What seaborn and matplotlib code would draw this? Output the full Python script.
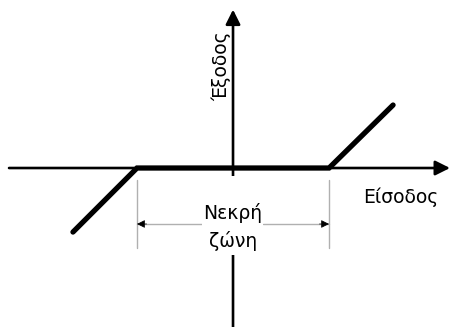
import numpy as np
import matplotlib
matplotlib.use('Agg')
import matplotlib.pyplot as plt
import matplotlib.patches as mpatches
import pandas as pd
import seaborn as sns

# Χαρακτηριστική νεκρής ζώνης (είσοδος -> έξοδος), μονάδα = μισό πλάτος ζώνης
eisodos = [-1.667, -1.0, 1.0, 1.667]
exodos = [-0.667, 0.0, 0.0, 0.656]
zone_edges = [-1.0, 1.0]

label_x = 'Είσοδος'
label_y = 'Έξοδος'
label_zone = ['Νεκρή', 'ζώνη']

df = pd.DataFrame({'eisodos': eisodos, 'exodos': exodos})

sns.set_style('white')
plt.rcParams['font.family'] = ['DejaVu Sans']
plt.rcParams['text.color'] = 'black'

fig = plt.figure(figsize=(4.5, 3.27), dpi=100)
ax = fig.add_axes([0, 0, 1, 1])
ax.set_xlim(-2.427, 2.26)
ax.set_ylim(-1.656, 1.75)
ax.axis('off')

# άξονες με βέλη
ax.annotate('', xy=(2.26, 0), xytext=(-2.333, 0),
            arrowprops=dict(arrowstyle='-|>', color='black', lw=1.9,
                            mutation_scale=22, shrinkA=0, shrinkB=0))
ax.annotate('', xy=(0, 1.65), xytext=(0, -1.7),
            arrowprops=dict(arrowstyle='-|>', color='black', lw=1.9,
                            mutation_scale=22, shrinkA=0, shrinkB=0))

# η καμπύλη
sns.lineplot(data=df, x='eisodos', y='exodos', ax=ax, color='black',
             linewidth=3.8, solid_capstyle='round', solid_joinstyle='miter',
             sort=False, estimator=None)
ax.set_xlabel('')
ax.set_ylabel('')

# λευκό πλαίσιο πίσω από το κείμενο της ζώνης (κρύβει τον άξονα)
ax.add_patch(mpatches.Rectangle((-0.32, -0.906), 0.63, 0.82,
                                facecolor='white', edgecolor='none', zorder=4))

# διάσταση νεκρής ζώνης
gray = '#b0b0b0'
for xe in zone_edges:
    ax.plot([xe, xe], [-0.125, -0.833], color=gray, lw=1)
ax.plot([-1.0, -0.32], [-0.583, -0.583], color=gray, lw=1)
ax.plot([0.31, 1.0], [-0.583, -0.583], color=gray, lw=1)
for xe, d in [(-1.0, 1), (1.0, -1)]:
    ax.annotate('', xy=(xe, -0.583), xytext=(xe + d * 0.1, -0.583),
                arrowprops=dict(arrowstyle='-|>', color='black', lw=0.5,
                                mutation_scale=12, shrinkA=0, shrinkB=0))

ax.text(0, -0.47, label_zone[0], ha='center', va='center', fontsize=13.5,
        zorder=5)
ax.text(0, -0.76, label_zone[1], ha='center', va='center', fontsize=13.5,
        zorder=5)
ax.text(1.75, -0.30, label_x, ha='center', va='center', fontsize=13.5)
ax.text(-0.125, 1.06, label_y, ha='center', va='center', fontsize=13.5,
        rotation=90)

plt.savefig('out.png', dpi=100)
